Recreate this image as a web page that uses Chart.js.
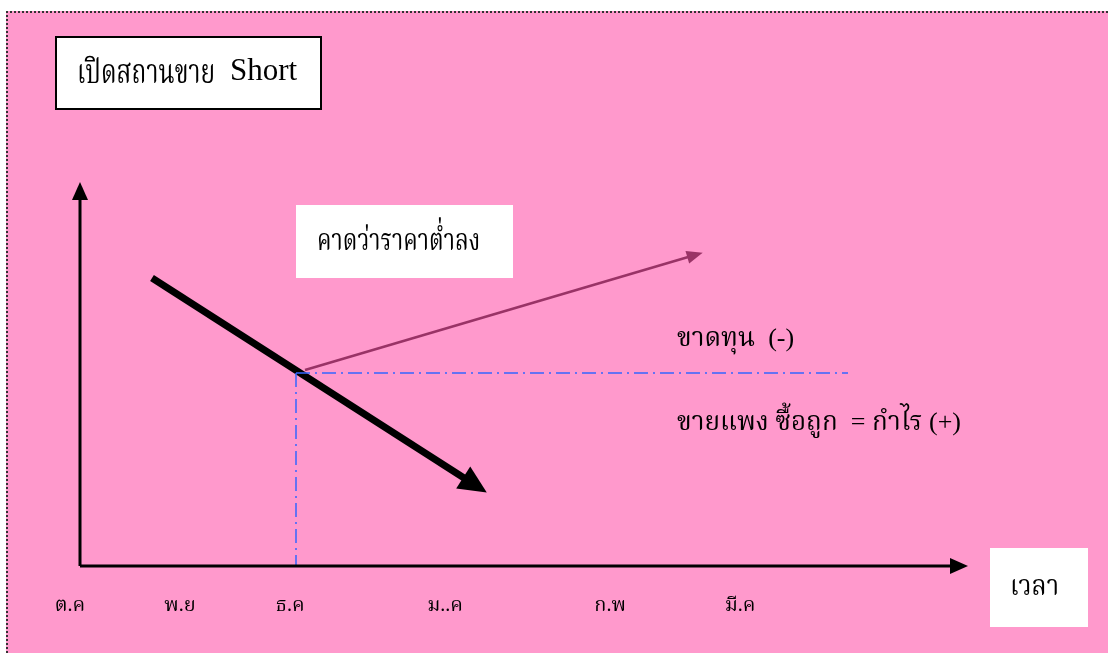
<!DOCTYPE html>
<html lang="th">
<head>
<meta charset="utf-8">
<title>เปิดสถานขาย Short</title>
<script src="https://cdn.jsdelivr.net/npm/chart.js@4.4.0/dist/chart.umd.min.js"></script>
<style>
  html, body { margin: 0; padding: 0; background: #fff; overflow: hidden; }
  #hoja { position: absolute; left: 6px; top: 11px; right: -20px; bottom: -20px; background: #ff99cc;
          border-top: 2px dotted #333; border-left: 2px dotted #333; }
  #grafico { position: absolute; left: 0; top: 0; }
</style>
</head>
<body>
<div id="hoja"></div>
<canvas id="grafico" width="1108" height="653"></canvas>
<script>
// Datos (eje de tiempo = x, precio = y; origen en el cruce de los ejes)
const meses = ['ต.ค', 'พ.ย', 'ธ.ค', 'ม..ค', 'ก.พ', 'มี.ค'];
const mesesPos = [-10, 100, 210, 365, 530, 660];

const ejeTiempoX = [0, 879];
const ejeTiempoY = [0, 0];
const ejePrecioX = [0, 0];
const ejePrecioY = [0, 375];

const bajaX = [72, 395];      // precio esperado: baja
const bajaY = [288, 81];
const subeX = [225, 615];     // precio sube: pérdida
const subeY = [196, 311];

const nivelX = [216, 768];    // nivel de entrada (venta)
const nivelY = [193, 193];
const entradaX = [216, 216];
const entradaY = [193, 0];

const puntos = (xs, ys) => xs.map((x, i) => ({ x: x, y: ys[i] }));

const serif = "'Liberation Serif', 'Noto Serif Thai', 'Noto Sans Thai', serif";

// textos y recuadros (en unidades de los ejes); k = compresión horizontal
const notas = [
  { texto: '', caja: [-24, 529, 241, 457], borde: true },
  { texto: 'เปิดสถานขาย', x: -3, y: 492, size: 34, k: 0.72 },
  { texto: 'Short', x: 150, y: 494, size: 31 },
  { texto: 'คาดว่าราคาต่ำลง', x: 237, y: 324, size: 31, k: 0.74, caja: [216, 361, 433, 288] },
  { texto: 'ขาดทุน  (-)', x: 597, y: 227, size: 26 },
  { texto: 'ขายแพง ซื้อถูก  = กำไร (+)', x: 597, y: 143, size: 26 },
  { texto: 'เวลา', x: 930, y: -22, size: 28, k: 0.9, caja: [910, 18, 1008, -61] }
];

// puntas de flecha al final de cada serie marcada
const flechas = {
  id: 'flechas',
  afterDatasetsDraw(chart) {
    const ctx = chart.ctx;
    chart.data.datasets.forEach((ds, i) => {
      if (!ds.punta) return;
      const pts = chart.getDatasetMeta(i).data;
      const a = pts[pts.length - 2], b = pts[pts.length - 1];
      const ang = Math.atan2(b.y - a.y, b.x - a.x);
      const largo = ds.punta[0], ancho = ds.punta[1];
      const c = Math.cos(ang), s = Math.sin(ang);
      const tx = b.x + c * largo / 2, ty = b.y + s * largo / 2;
      const bx = tx - c * largo, by = ty - s * largo;
      ctx.save();
      ctx.fillStyle = ds.borderColor;
      ctx.beginPath();
      ctx.moveTo(tx, ty);
      ctx.lineTo(bx + s * ancho / 2, by - c * ancho / 2);
      ctx.lineTo(bx - s * ancho / 2, by + c * ancho / 2);
      ctx.closePath();
      ctx.fill();
      ctx.restore();
    });
  }
};

const textos = {
  id: 'textos',
  afterDraw(chart) {
    const ctx = chart.ctx;
    const sx = chart.scales.x, sy = chart.scales.y;
    notas.forEach(n => {
      ctx.save();
      if (n.caja) {
        const x0 = sx.getPixelForValue(n.caja[0]), y0 = sy.getPixelForValue(n.caja[1]);
        const x1 = sx.getPixelForValue(n.caja[2]), y1 = sy.getPixelForValue(n.caja[3]);
        ctx.fillStyle = '#fff';
        ctx.fillRect(x0, y0, x1 - x0, y1 - y0);
        if (n.borde) {
          ctx.strokeStyle = '#000';
          ctx.lineWidth = 2;
          ctx.strokeRect(x0, y0, x1 - x0, y1 - y0);
        }
      }
      if (n.texto) {
        ctx.fillStyle = '#000';
        ctx.font = n.size + 'px ' + serif;
        ctx.textAlign = 'left';
        ctx.textBaseline = 'middle';
        ctx.translate(sx.getPixelForValue(n.x), sy.getPixelForValue(n.y));
        ctx.scale(n.k || 1, 1);
        ctx.fillText(n.texto, 0, 0);
      }
      ctx.restore();
    });
  }
};

const ctx = document.getElementById('grafico').getContext('2d');
const grafico = new Chart(ctx, {
  type: 'line',
  data: {
    datasets: [
      { data: puntos(ejeTiempoX, ejeTiempoY), borderColor: '#000', borderWidth: 3, punta: [18, 16] },
      { data: puntos(ejePrecioX, ejePrecioY), borderColor: '#000', borderWidth: 3, punta: [18, 16] },
      { data: puntos(entradaX, entradaY), borderColor: '#3366ff', borderWidth: 1.5, borderDash: [14, 5, 2, 5] },
      { data: puntos(nivelX, nivelY), borderColor: '#3366ff', borderWidth: 1.5, borderDash: [14, 5, 2, 5] },
      { data: puntos(subeX, subeY), borderColor: '#993366', borderWidth: 2.5, punta: [16, 13] },
      { data: puntos(bajaX, bajaY), borderColor: '#000', borderWidth: 7, punta: [28, 26] }
    ]
  },
  options: {
    responsive: false,
    devicePixelRatio: 1,
    animation: false,
    layout: { padding: 0 },
    elements: { point: { radius: 0 }, line: { tension: 0, borderCapStyle: 'butt' } },
    plugins: { legend: { display: false }, tooltip: { enabled: false } },
    scales: {
      x: {
        type: 'linear', min: -80, max: 1028,
        position: { y: 0 },
        grid: { display: false },
        border: { display: false },
        afterBuildTicks: s => { s.ticks = mesesPos.map(v => ({ value: v })); },
        ticks: {
          autoSkip: false, maxRotation: 0, padding: 20, color: '#000',
          font: { family: serif, size: 20 },
          callback: (v, i) => meses[i]
        }
      },
      y: { type: 'linear', min: -87, max: 566, display: false }
    }
  },
  plugins: [flechas, textos]
});
</script>
</body>
</html>
